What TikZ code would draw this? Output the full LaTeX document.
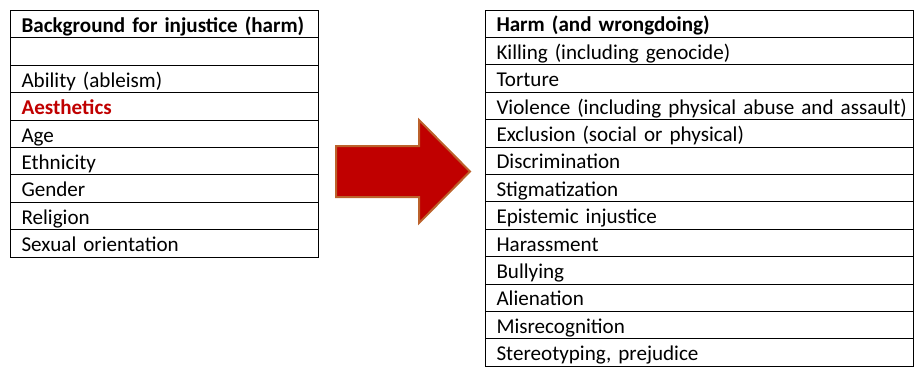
\documentclass[tikz,border=0pt]{standalone}
\usepackage{fontspec}
\setmainfont{Carlito}
\usetikzlibrary{positioning}
\definecolor{harmred}{RGB}{192,0,0}
\definecolor{arrowrim}{RGB}{188,98,44}

\begin{document}
\begin{tikzpicture}[x=1pt,y=-1pt,
    cell/.style={draw=black,line width=1pt,outer sep=0pt,inner xsep=11.5pt,inner ysep=0pt,
      minimum height=27.4pt,text height=17pt,text depth=0.6pt,align=left,
      font=\fontsize{21.1}{26}\selectfont},
    bgcell/.style={cell,text width=285pt},
    harmcell/.style={cell,text width=405pt},
    bigarrow/.style={fill=harmred,draw=arrowrim,line width=2pt,line join=miter}]
      \useasboundingbox (0,0) rectangle (917,367);
      % left table: backgrounds
      \node[bgcell,anchor=north west] (bg) at (10,10.5) {\mbox{\bfseries Background for injustice (harm)}};
      \node[bgcell,below=0pt of bg] (blank) {};
      \node[bgcell,below=0pt of blank] (ability) {Ability (ableism)};
      \node[bgcell,below=0pt of ability] (aesthetics) {\bfseries\color{harmred}Aesthetics};
      \node[bgcell,below=0pt of aesthetics] (age) {Age};
      \node[bgcell,below=0pt of age] (ethnicity) {Ethnicity};
      \node[bgcell,below=0pt of ethnicity] (gender) {Gender};
      \node[bgcell,below=0pt of gender] (religion) {Religion};
      \node[bgcell,below=0pt of religion] (sexual) {Sexual orientation};

      % right table: harms
      \node[harmcell,anchor=north west] (harm) at (485,10) {\bfseries Harm (and wrongdoing)};
      \node[harmcell,below=0pt of harm] (killing) {Killing (including genocide)};
      \node[harmcell,below=0pt of killing] (torture) {Torture};
      \node[harmcell,below=0pt of torture] (violence) {\mbox{Violence (including physical abuse and assault)}};
      \node[harmcell,below=0pt of violence] (exclusion) {Exclusion (social or physical)};
      \node[harmcell,below=0pt of exclusion] (discrim) {Discrimination};
      \node[harmcell,below=0pt of discrim] (stigma) {Stigmatization};
      \node[harmcell,below=0pt of stigma] (epistemic) {Epistemic injustice};
      \node[harmcell,below=0pt of epistemic] (harass) {Harassment};
      \node[harmcell,below=0pt of harass] (bully) {Bullying};
      \node[harmcell,below=0pt of bully] (alien) {Alienation};
      \node[harmcell,below=0pt of alien] (misrec) {Misrecognition};
      \node[harmcell,below=0pt of misrec] (stereo) {Stereotyping, prejudice};

      % block arrow between the tables
      \draw[bigarrow] (336,146) -- (419,146) -- (419,120) -- (470,171.5)
        -- (419,223) -- (419,197) -- (336,197) -- cycle;
\end{tikzpicture}
\end{document}
